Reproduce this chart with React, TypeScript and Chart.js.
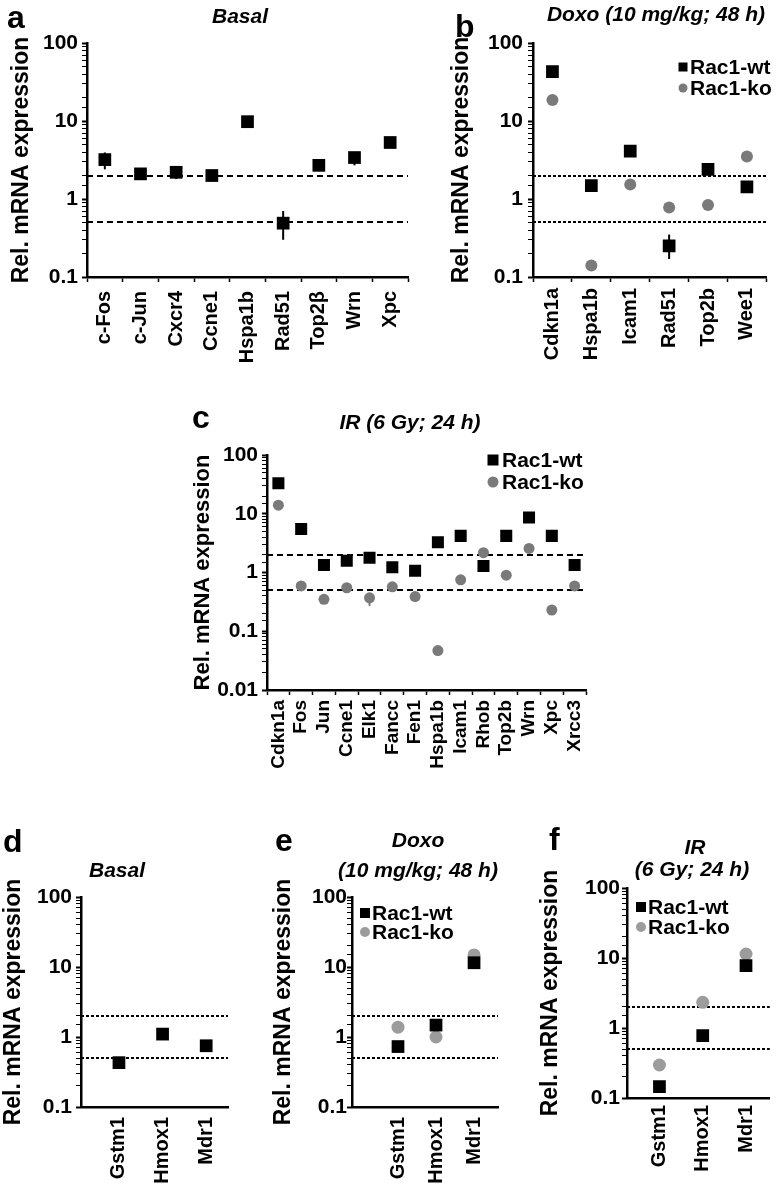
import React, { useEffect, useRef } from 'react';
import { Chart, registerables } from 'chart.js';

Chart.register(...registerables);

const PAGE_W = 777;
const PAGE_H = 1193;
const FAMILY = "'Liberation Sans', Arial, Helvetica, sans-serif";

// ---------------- data ----------------
const seriesLabels = ['Rac1-wt', 'Rac1-ko'];
const thresholds = [2, 0.5];
const yMajorValues = [0.01, 0.1, 1, 10, 100];
const yMajorLabels = ['0.01', '0.1', '1', '10', '100'];
const yTitle = 'Rel. mRNA expression';

// a: Basal
const aGenes = ['c-Fos', 'c-Jun', 'Cxcr4', 'Ccne1', 'Hspa1b', 'Rad51', 'Top2β', 'Wrn', 'Xpc'];
const aWt = [3.2, 2.1, 2.2, 2.0, 9.8, 0.49, 2.7, 3.4, 5.3];
const aWtHi = [3.95, 2.3, 2.6, 2.15, null, 0.7, 2.9, 4.0, 5.7];
const aWtLo = [2.4, 1.9, 1.8, 1.85, null, 0.3, 2.5, 2.7, 4.9];

// b: Doxo
const bGenes = ['Cdkn1a', 'Hspa1b', 'Icam1', 'Rad51', 'Top2b', 'Wee1'];
const bWt = [43, 1.48, 4.1, 0.25, 2.4, 1.43];
const bKo = [18.6, 0.14, 1.53, 0.78, 0.84, 3.5];
const bWtHi = [null, null, null, 0.35, null, null];
const bWtLo = [null, null, null, 0.17, null, null];
const bKoHi = [null, 0.165, null, 0.9, null, null];
const bKoLo = [null, 0.12, null, 0.68, null, null];

// c: IR
const cGenes = ['Cdkn1a', 'Fos', 'Jun', 'Ccne1', 'Elk1', 'Fancc', 'Fen1', 'Hspa1b', 'Icam1', 'Rhob', 'Top2b', 'Wrn', 'Xpc', 'Xrcc3'];
const cWt = [33, 5.5, 1.34, 1.59, 1.78, 1.23, 1.07, 3.27, 4.2, 1.29, 4.2, 8.6, 4.2, 1.34];
const cKo = [14, 0.59, 0.35, 0.55, 0.37, 0.57, 0.39, 0.047, 0.75, 2.17, 0.9, 2.57, 0.23, 0.59];
const cKoHi = [null, null, null, null, 0.45, null, null, null, null, null, null, null, null, null];
const cKoLo = [null, null, null, null, 0.27, null, null, null, null, null, null, null, null, null];

// d-f: Gstm1 / Hmox1 / Mdr1
const dGenes = ['Gstm1', 'Hmox1', 'Mdr1'];
const dWt = [0.43, 1.1, 0.75];
const eWt = [0.73, 1.48, 11.5];
const eKo = [1.38, 1.0, 14.9];
const fWt = [0.145, 0.78, 7.8];
const fKo = [0.296, 2.33, 11.4];

// ---------------- panel layout ----------------
type Series = { label: string; values: number[]; kind: 'wt' | 'ko'; color: string; radius: number };
type Err = { ds: number; hi: (number | null)[]; lo: (number | null)[]; color: string };
type Txt = { t: string; x: number; y: number; size: number; italic?: boolean; align?: CanvasTextAlign };
type Spec = {
  cats: string[];
  linear: boolean;
  xmin?: number;
  xmax?: number;
  L: number;
  axisX: number;
  yTop: number;
  yBottom: number;
  xRight: number;
  ymin: number;
  yTickPad: number;
  xTickPad: number;
  xFont: number;
  tickFont: number;
  titleFont: number;
  dash: number[];
  series: Series[];
  errors: Err[];
  texts: Txt[];
  legend: null | { mx: number; tx: number; ys: number[]; size: number };
};

const WT = '#000000';
const KO_DARK = '#7a7a7a';
const KO_LIGHT = '#9c9c9c';

const specs: Spec[] = [
  {
    cats: aGenes, linear: false, L: 8.2, axisX: 87, yTop: 43, yBottom: 277, xRight: 408, ymin: 0.1,
    yTickPad: 4, xTickPad: 9, xFont: 20, tickFont: 21, titleFont: 23, dash: [6, 4],
    series: [{ label: seriesLabels[0], values: aWt, kind: 'wt', color: WT, radius: 9 }],
    errors: [{ ds: 0, hi: aWtHi, lo: aWtLo, color: WT }],
    texts: [
      { t: 'a', x: 7, y: 28, size: 32 },
      { t: 'Basal', x: 240, y: 23, size: 21, italic: true, align: 'center' },
    ],
    legend: null,
  },
  {
    cats: bGenes, linear: false, L: 448.2, axisX: 533, yTop: 43, yBottom: 277, xRight: 776, ymin: 0.1,
    yTickPad: 5, xTickPad: 6, xFont: 20, tickFont: 21, titleFont: 23, dash: [3, 2],
    series: [
      { label: seriesLabels[0], values: bWt, kind: 'wt', color: WT, radius: 9 },
      { label: seriesLabels[1], values: bKo, kind: 'ko', color: KO_DARK, radius: 6 },
    ],
    errors: [
      { ds: 0, hi: bWtHi, lo: bWtLo, color: WT },
      { ds: 1, hi: bKoHi, lo: bKoLo, color: KO_DARK },
    ],
    texts: [
      { t: 'b', x: 455, y: 37, size: 32 },
      { t: 'Doxo (10 mg/kg; 48 h)', x: 656, y: 21, size: 21, italic: true, align: 'center' },
    ],
    legend: { mx: 683, tx: 690, ys: [67, 88], size: 9 },
  },
  {
    cats: cGenes, linear: false, L: 189.8, axisX: 267, yTop: 455, yBottom: 690, xRight: 586, ymin: 0.01,
    yTickPad: 4, xTickPad: 5, xFont: 19, tickFont: 21, titleFont: 22, dash: [6, 4],
    series: [
      { label: seriesLabels[0], values: cWt, kind: 'wt', color: WT, radius: 8.5 },
      { label: seriesLabels[1], values: cKo, kind: 'ko', color: KO_DARK, radius: 5.5 },
    ],
    errors: [{ ds: 1, hi: cKoHi, lo: cKoLo, color: KO_DARK }],
    texts: [
      { t: 'c', x: 192, y: 428, size: 32 },
      { t: 'IR (6 Gy; 24 h)', x: 410, y: 429, size: 21, italic: true, align: 'center' },
    ],
    legend: { mx: 493, tx: 502, ys: [460, 482], size: 11 },
  },
  {
    cats: dGenes, linear: true, xmin: -0.87, xmax: 2.5, L: 0, axisX: 81, yTop: 897, yBottom: 1107, xRight: 228, ymin: 0.1,
    yTickPad: 4, xTickPad: 10, xFont: 20, tickFont: 21, titleFont: 23, dash: [3, 2],
    series: [{ label: seriesLabels[0], values: dWt, kind: 'wt', color: WT, radius: 9 }],
    errors: [],
    texts: [
      { t: 'd', x: 3, y: 852, size: 32 },
      { t: 'Basal', x: 117, y: 877, size: 21, italic: true, align: 'center' },
    ],
    legend: null,
  },
  {
    cats: dGenes, linear: true, xmin: -1.21, xmax: 2.63, L: 270.2, axisX: 352, yTop: 897, yBottom: 1107, xRight: 498, ymin: 0.1,
    yTickPad: 0, xTickPad: 10, xFont: 20, tickFont: 21, titleFont: 23, dash: [3, 2],
    series: [
      { label: seriesLabels[0], values: eWt, kind: 'wt', color: WT, radius: 9 },
      { label: seriesLabels[1], values: eKo, kind: 'ko', color: KO_LIGHT, radius: 6.5 },
    ],
    errors: [],
    texts: [
      { t: 'e', x: 275, y: 851, size: 32 },
      { t: 'Doxo', x: 418, y: 847, size: 21, italic: true, align: 'center' },
      { t: '(10 mg/kg; 48 h)', x: 418, y: 877, size: 21, italic: true, align: 'center' },
    ],
    legend: { mx: 365, tx: 372, ys: [913, 932], size: 10 },
  },
  {
    cats: dGenes, linear: true, xmin: -0.75, xmax: 2.55, L: 537.2, axisX: 627, yTop: 888, yBottom: 1098, xRight: 777, ymin: 0.1,
    yTickPad: 2, xTickPad: 7, xFont: 20, tickFont: 21, titleFont: 23, dash: [3, 2],
    series: [
      { label: seriesLabels[0], values: fWt, kind: 'wt', color: WT, radius: 9 },
      { label: seriesLabels[1], values: fKo, kind: 'ko', color: KO_LIGHT, radius: 6.5 },
    ],
    errors: [],
    texts: [
      { t: 'f', x: 549, y: 850, size: 32 },
      { t: 'IR', x: 695, y: 854, size: 21, italic: true, align: 'center' },
      { t: '(6 Gy; 24 h)', x: 692, y: 876, size: 21, italic: true, align: 'center' },
    ],
    legend: { mx: 641, tx: 648, ys: [907, 927], size: 10 },
  },
];

// ---------------- helpers ----------------
function isMajor(v: number) {
  const l = Math.log10(v);
  return Math.abs(l - Math.round(l)) < 1e-6;
}
function majorLabel(v: number) {
  const e = Math.round(Math.log10(v));
  const idx = yMajorValues.findIndex((m) => Math.round(Math.log10(m)) === e);
  return idx >= 0 ? yMajorLabels[idx] : '';
}
function fnt(size: number, italic = false) {
  return { family: FAMILY, size, weight: 'bold' as const, style: italic ? ('italic' as const) : ('normal' as const) };
}

function buildConfig(s: Spec): any {
  const datasets = s.series.map((ser) => ({
    label: ser.label,
    data: s.linear ? ser.values.map((v, i) => ({ x: i, y: v })) : ser.values,
    showLine: false,
    pointStyle: ser.kind === 'wt' ? 'rect' : 'circle',
    pointRadius: ser.radius,
    pointHoverRadius: ser.radius,
    pointBackgroundColor: ser.color,
    pointBorderColor: ser.color,
    pointBorderWidth: 0,
    backgroundColor: ser.color,
    borderColor: ser.color,
  }));

  const decor = {
    id: 'decor',
    beforeDatasetsDraw(chart: any) {
      const { ctx, chartArea, scales } = chart;
      ctx.save();
      ctx.strokeStyle = '#000';
      ctx.lineWidth = 2;
      ctx.setLineDash(s.dash);
      for (const t of thresholds) {
        const y = Math.round(scales.y.getPixelForValue(t));
        ctx.beginPath();
        ctx.moveTo(chartArea.left, y);
        ctx.lineTo(chartArea.right, y);
        ctx.stroke();
      }
      ctx.setLineDash([]);
      for (const e of s.errors) {
        const meta = chart.getDatasetMeta(e.ds);
        ctx.strokeStyle = e.color;
        ctx.lineWidth = 2;
        e.hi.forEach((h, i) => {
          const l = e.lo[i];
          if (h == null || l == null) return;
          const x = meta.data[i].x;
          ctx.beginPath();
          ctx.moveTo(x, scales.y.getPixelForValue(h));
          ctx.lineTo(x, scales.y.getPixelForValue(l));
          ctx.stroke();
        });
      }
      ctx.restore();
    },
    afterDraw(chart: any) {
      const { ctx } = chart;
      ctx.save();
      ctx.fillStyle = '#000';
      for (const t of s.texts) {
        ctx.font = `${t.italic ? 'italic ' : ''}bold ${t.size}px ${FAMILY}`;
        ctx.textAlign = t.align || 'left';
        ctx.textBaseline = 'alphabetic';
        ctx.fillText(t.t, t.x, t.y);
      }
      if (s.legend) {
        const lg = s.legend;
        chart.data.datasets.forEach((ds: any, i: number) => {
          const y = lg.ys[i];
          ctx.fillStyle = ds.pointBackgroundColor;
          if (ds.pointStyle === 'rect') {
            ctx.fillRect(lg.mx - lg.size / 2, y - lg.size / 2, lg.size, lg.size);
          } else {
            ctx.beginPath();
            ctx.arc(lg.mx, y, lg.size / 2, 0, Math.PI * 2);
            ctx.fill();
          }
          ctx.fillStyle = '#000';
          ctx.font = `bold 21px ${FAMILY}`;
          ctx.textAlign = 'left';
          ctx.textBaseline = 'middle';
          ctx.fillText(ds.label, lg.tx, y + 1);
        });
      }
      ctx.restore();
    },
  };

  const X_H = 120;

  const xScale: any = s.linear
    ? {
        type: 'linear',
        min: s.xmin,
        max: s.xmax,
        afterBuildTicks: (sc: any) => {
          sc.ticks = s.cats.map((_, i) => ({ value: i }));
        },
        ticks: {
          autoSkip: false,
          maxRotation: 90,
          minRotation: 90,
          padding: s.xTickPad,
          color: '#000',
          font: fnt(s.xFont),
          callback: (v: any) => s.cats[Math.round(Number(v))] ?? '',
        },
        grid: { display: false, drawOnChartArea: false, drawTicks: false },
        border: { display: true, color: '#000', width: 2.5 },
        afterFit: (sc: any) => {
          sc.height = X_H;
        },
      }
    : {
        type: 'category',
        labels: s.cats,
        offset: true,
        ticks: {
          autoSkip: false,
          maxRotation: 90,
          minRotation: 90,
          padding: s.xTickPad,
          color: '#000',
          font: fnt(s.xFont),
        },
        grid: { display: true, offset: true, drawOnChartArea: false, drawTicks: true, tickLength: 5, color: '#000', tickWidth: 1.5 },
        border: { display: true, color: '#000', width: 2.5 },
        afterFit: (sc: any) => {
          sc.height = X_H;
        },
      };

  return {
    type: 'line',
    data: s.linear ? { datasets } : { labels: s.cats, datasets },
    options: {
      responsive: false,
      maintainAspectRatio: false,
      animation: false,
      devicePixelRatio: 1,
      events: [],
      layout: {
        autoPadding: false,
        padding: { left: s.L, top: s.yTop, right: PAGE_W - s.xRight, bottom: PAGE_H - s.yBottom - X_H },
      },
      plugins: { legend: { display: false }, tooltip: { enabled: false }, title: { display: false } },
      scales: {
        x: xScale,
        y: {
          type: 'logarithmic',
          min: s.ymin,
          max: 100,
          ticks: {
            autoSkip: false,
            padding: s.yTickPad,
            color: '#000',
            font: fnt(s.tickFont),
            callback: (v: any) => (isMajor(Number(v)) ? majorLabel(Number(v)) : ''),
          },
          grid: {
            display: true,
            drawOnChartArea: false,
            drawTicks: true,
            tickLength: 5,
            color: '#000',
            tickWidth: (ctx: any) => (ctx.tick && isMajor(ctx.tick.value) ? 2 : 1),
          },
          border: { display: true, color: '#000', width: 2.5 },
          title: { display: true, text: yTitle, color: '#000', font: fnt(s.titleFont), padding: 0 },
          afterFit: (sc: any) => {
            sc.width = s.axisX - s.L;
          },
        },
      },
    },
    plugins: [decor],
  };
}

function Panel({ spec }: { spec: Spec }) {
  const ref = useRef<HTMLCanvasElement>(null);
  useEffect(() => {
    if (!ref.current) return;
    const chart = new Chart(ref.current, buildConfig(spec));
    return () => chart.destroy();
  }, [spec]);
  return (
    <canvas
      ref={ref}
      width={PAGE_W}
      height={PAGE_H}
      style={{ position: 'absolute', left: 0, top: 0, width: PAGE_W, height: PAGE_H }}
    />
  );
}

export default function App() {
  return (
    <div style={{ position: 'absolute', left: 0, top: 0, width: PAGE_W, height: PAGE_H, background: '#fff', overflow: 'hidden' }}>
      {specs.map((s, i) => (
        <Panel key={i} spec={s} />
      ))}
    </div>
  );
}
